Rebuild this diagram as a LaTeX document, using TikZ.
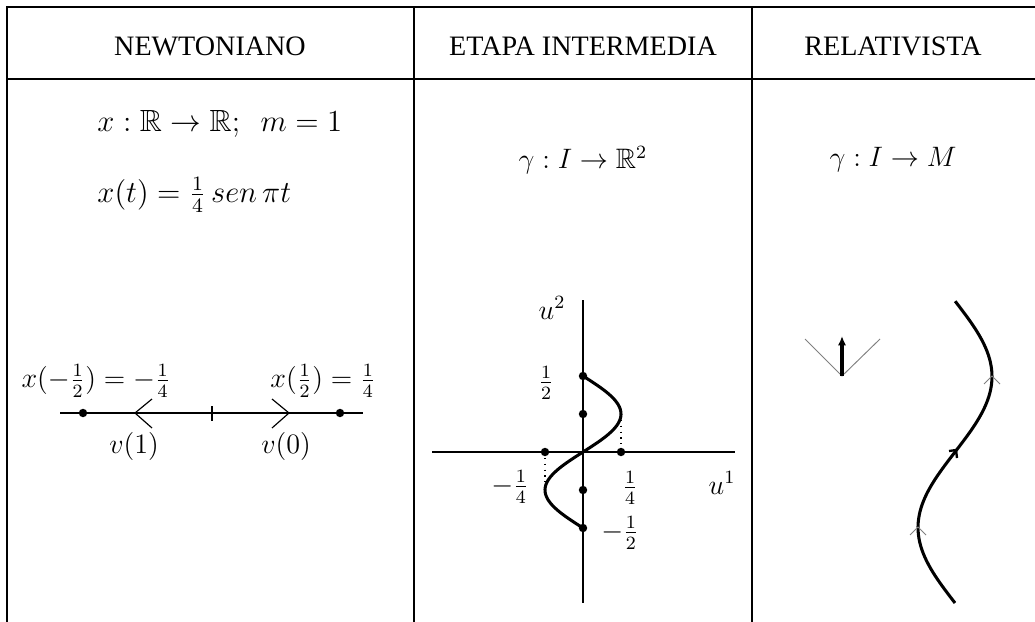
\documentclass[tikz,border=0pt]{standalone}
\usepackage{amssymb}
\usepackage{graphicx}
\usepackage{fontspec}
\setmainfont{Liberation Serif}
\usetikzlibrary{arrows.meta}

\tikzset{
  regla/.style={line width=0.8pt},
  eje/.style={line width=0.8pt},
  curva/.style={line width=1.3pt},
  punto/.style={circle, fill, inner sep=0pt, minimum size=3.6pt},
  cono/.style={gray, line width=0.4pt},
  flechita/.style={line width=0.5pt},
  formula/.style={anchor=west}
}
\newcommand{\grande}[1]{\scalebox{1.09}{#1}}

\begin{document}
\begin{tikzpicture}[x=0.015cm, y=-0.015cm, >=Latex, font=\large, inner sep=0pt]
  \useasboundingbox (0,0) rectangle (1035,622);

  % --- tabla ---
  \draw[regla] (7,622) -- (7,7) -- (1035,7);
  \draw[regla] (7,79) -- (1035,79);
  \draw[regla] (414,7) -- (414,622);
  \draw[regla] (752,7) -- (752,622);
  \node (tnewton) at (210,46) {NEWTONIANO};
  \node (tetapa) at (583,46) {ETAPA INTERMEDIA};
  \node (trel) at (893,46) {RELATIVISTA};

  % --- panel izquierdo: recta real ---
  \node[formula] (xdef) at (97,124) {\grande{$x:\mathbb{R}\to\mathbb{R};\ \ m=1$}};
  \node[formula] (xt) at (97,195) {\grande{$x(t)=\frac{1}{4}\,sen\,\pi t$}};
  \coordinate (ri) at (60,413);
  \coordinate (rd) at (363,413);
  \draw[eje] (ri) -- (rd);
  \draw[eje] (212,406) -- (212,421);
  \node[punto] (pmenos) at (83,413) {};
  \node[punto] (pmas) at (340,413) {};
  \draw[flechita] (152,399) -- (135,413) -- (152,428);
  \draw[flechita] (272,399) -- (289,413) -- (272,428);
  \node (lmenos) at (96,381) {$x(-\frac{1}{2})=-\frac{1}{4}$};
  \node (lmas) at (323,381) {$x(\frac{1}{2})=\frac{1}{4}$};
  \node (vuno) at (134,446) {$v(1)$};
  \node (vcero) at (286,446) {$v(0)$};

  % --- panel central: curva en R^2 ---
  \node (gdos) at (583,160) {$\gamma:I\to\mathbb{R}^2$};
  \begin{scope}[shift={(583,452)}]
    \draw[eje] (-151,0) -- (152,0);
    \draw[eje] (0,-152) -- (0,151);
    \draw[curva] plot[domain=-0.5:0.5, samples=80, smooth] ({38*sin(360*\x)}, {-152*\x});
    \draw[dotted, line width=0.5pt] (38,-38) -- (38,0);
    \draw[dotted, line width=0.5pt] (-38,0) -- (-38,38);
    \foreach \p in {-76,-38,38,76} \node[punto] at (0,\p) {};
    \node[punto] (uizq) at (-38,0) {};
    \node[punto] (uder) at (38,0) {};
    \node (ldos) at (-31,-144) {$u^2$};
    \node (luno) at (139,31) {$u^1$};
    \node (fmedio) at (-37,-69) {$\frac{1}{2}$};
    \node (fcmenos) at (-73,35) {$-\frac{1}{4}$};
    \node (fcuarto) at (47,36) {$\frac{1}{4}$};
    \node (fmmenos) at (37,81) {$-\frac{1}{2}$};
  \end{scope}

  % --- panel derecho: cono de luz y linea de universo ---
  \node (gM) at (893,160) {$\gamma:I\to M$};
  \coordinate (vert) at (842,376);
  \draw[cono] (805,339) -- (vert) -- (880,339);
  \draw[line width=1.5pt, -{Latex[length=4pt,width=3.5pt]}] (vert) -- (842,336);
  \begin{scope}[shift={(955,452)}]
    \draw[curva] plot[domain=-0.5:0.5, samples=80, smooth] ({37*sin(360*\x)}, {-302*\x});
    \draw[cono] (29,-68) -- (37,-76) -- (45,-68);
    \draw[cono] (-45,83) -- (-37,75) -- (-29,83);
    \draw[line width=1pt] (-6,-1) -- (1,-2) -- (2,6);
  \end{scope}
\end{tikzpicture}
\end{document}
